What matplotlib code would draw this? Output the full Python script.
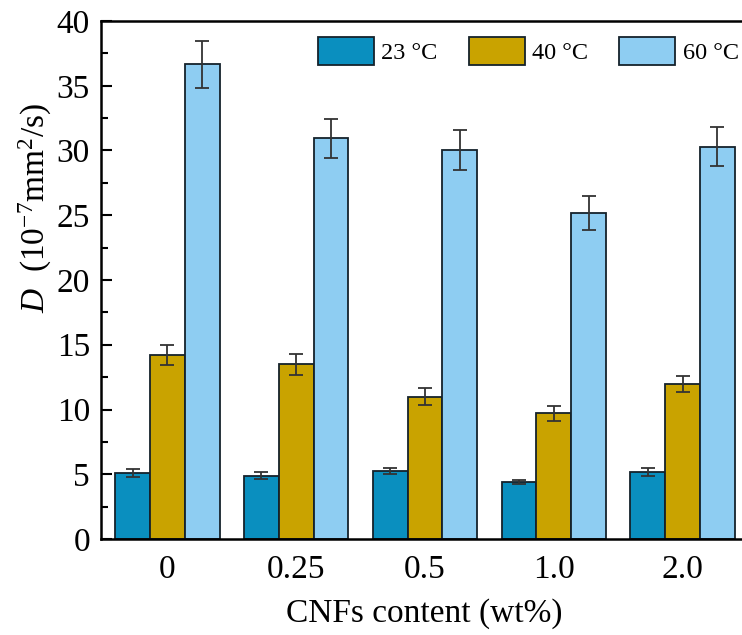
import numpy as np
import matplotlib
matplotlib.use('Agg')
import matplotlib.pyplot as plt
from matplotlib.ticker import MultipleLocator

plt.rcParams['font.family'] = ['Liberation Serif', 'DejaVu Serif']
plt.rcParams['mathtext.fontset'] = 'custom'
plt.rcParams['mathtext.rm'] = 'Liberation Serif'
plt.rcParams['mathtext.it'] = 'Liberation Serif:italic'

# data
contents = ['0', '0.25', '0.5', '1.0', '2.0']
temps = ['23 °C', '40 °C', '60 °C']
d_23 = [5.12, 4.89, 5.25, 4.37, 5.15]
d_40 = [14.2, 13.5, 11.0, 9.7, 11.95]
d_60 = [36.65, 30.95, 30.05, 25.15, 30.3]
err_23 = [0.3, 0.25, 0.25, 0.15, 0.3]
err_40 = [0.8, 0.8, 0.65, 0.55, 0.6]
err_60 = [1.8, 1.5, 1.55, 1.3, 1.5]
colors = ['#0a8fbf', '#c9a300', '#8ecdf2']

W, H = 742, 635
fig = plt.figure(figsize=(W / 100, H / 100), dpi=100)
ax = fig.add_axes([101 / W, (H - 539) / H, 646 / W, 518 / H])

x = np.arange(len(contents))
width = 0.27
series = [d_23, d_40, d_60]
errs = [err_23, err_40, err_60]
for i, (vals, e) in enumerate(zip(series, errs)):
    ax.bar(x + (i - 1) * width, vals, width, color=colors[i],
           edgecolor='#15222b', linewidth=1.3, label=temps[i],
           yerr=e, capsize=5,
           error_kw=dict(ecolor='#333333', elinewidth=1.3, capthick=1.3))

ax.set_xlim(-0.515, 4.5)
ax.set_ylim(0, 40)
ax.set_xticks(x)
ax.set_xticklabels(contents)
ax.yaxis.set_major_locator(MultipleLocator(5))
ax.yaxis.set_minor_locator(MultipleLocator(2.5))
ax.tick_params(axis='y', which='major', direction='in', length=8, width=1.5,
               labelsize=24, pad=8)
ax.tick_params(axis='y', which='minor', direction='in', length=5, width=1.5)
ax.tick_params(axis='x', length=0, labelsize=24, pad=11)
for s in ax.spines.values():
    s.set_linewidth(1.8)

ax.set_xlabel('CNFs content (wt%)', fontsize=24, labelpad=10)
ax.set_ylabel(r'$D$  (10$^{-7}$mm$^2$/s)', fontsize=24)
ax.yaxis.set_label_coords(-0.102, 0.64)
ax.yaxis.label.set_va('center')

ax.legend(loc='upper right', bbox_to_anchor=(1.021, 1.011), ncol=3, frameon=False,
          fontsize=17.5, handlelength=2.3, handleheight=1.4,
          handletextpad=0.3, columnspacing=1.3)

fig.savefig('out.png', dpi=100)
